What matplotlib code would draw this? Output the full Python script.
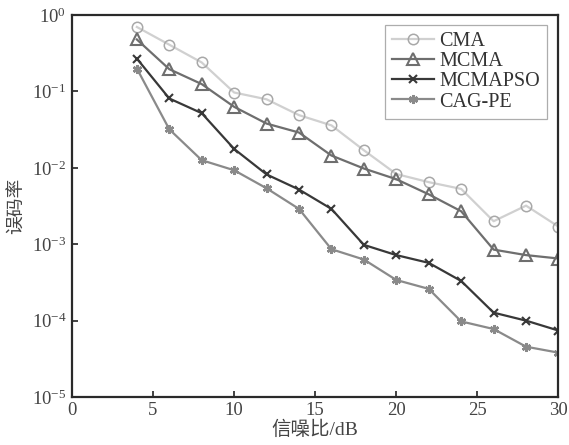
import numpy as np
import matplotlib.pyplot as plt
from matplotlib.ticker import LogLocator, NullLocator

# 数据: 信噪比与误码率
snr = [4, 6, 8, 10, 12, 14, 16, 18, 20, 22, 24, 26, 28, 30]
ber_cma = [0.70, 0.41, 0.24, 0.097, 0.079, 0.049, 0.036, 0.017, 0.0083, 0.0065, 0.0053, 0.0020, 0.0032, 0.0017]
ber_mcma = [0.48, 0.196, 0.125, 0.063, 0.038, 0.029, 0.0145, 0.0098, 0.0071, 0.0045, 0.0027, 0.00085, 0.00072, 0.00065]
ber_mcmapso = [0.27, 0.081, 0.052, 0.0177, 0.0082, 0.0052, 0.0029, 0.00098, 0.00072, 0.00057, 0.00033, 0.000127, 0.0000998, 0.000074]
ber_cagpe = [0.20, 0.032, 0.0126, 0.0093, 0.0054, 0.0029, 0.00086, 0.00063, 0.00034, 0.00026, 0.0000975, 0.0000775, 0.0000455, 0.000038]
labels = ['CMA', 'MCMA', 'MCMAPSO', 'CAG-PE']

plt.rcParams['font.family'] = ['Liberation Serif', 'Noto Sans CJK SC']
plt.rcParams['mathtext.fontset'] = 'stix'

fig = plt.figure(figsize=(5.69, 4.45), dpi=100)
ax = fig.add_axes([0.1265, 0.108, 0.855, 0.858])

ax.plot(snr, ber_cma, color='#d0d0d0', lw=1.6, marker='o', ms=7.5, mfc='none',
        mec='#a8a8a8', mew=1.1, label=labels[0])
ax.plot(snr, ber_mcma, color='#6e6e6e', lw=1.6, marker='^', ms=8, mfc='none',
        mec='#6e6e6e', mew=1.5, label=labels[1])
ax.plot(snr, ber_mcmapso, color='#383838', lw=1.6, marker='x', ms=5.5,
        mec='#383838', mew=1.5, label=labels[2])
ax.plot(snr, ber_cagpe, color='#8a8a8a', lw=1.6, marker=(6, 2, 0), ms=6.5,
        mec='#8a8a8a', mew=1.8, label=labels[3])

ax.set_yscale('log')
ax.set_xlim(0, 30)
ax.set_ylim(1e-5, 1)
ax.set_xticks([0, 5, 10, 15, 20, 25, 30])
ax.yaxis.set_major_locator(LogLocator(base=10, numticks=10))
ax.yaxis.set_minor_locator(NullLocator())
ax.tick_params(direction='in', length=4, width=1.2, labelsize=13.5,
               colors='#222222', labelcolor='#444444', pad=4)

for s in ax.spines.values():
    s.set_linewidth(1.6)
    s.set_color('#2a2a2a')

ax.set_xlabel('信噪比/dB', fontsize=14, color='#444444', labelpad=1)
ax.set_ylabel('误码率', fontsize=13.5, color='#444444', labelpad=4)

leg = ax.legend(loc='upper right', bbox_to_anchor=(0.977, 0.974), fontsize=14.5,
                frameon=True, fancybox=False, handlelength=2.1, handletextpad=0.25,
                borderpad=0.35, labelspacing=0.05, borderaxespad=0)
leg.get_frame().set_edgecolor('#999999')
leg.get_frame().set_linewidth(0.9)
for t in leg.get_texts():
    t.set_color('#333333')

fig.savefig('out.png', dpi=100)
